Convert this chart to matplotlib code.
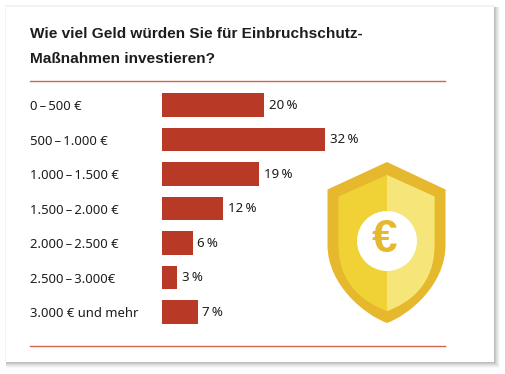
# encoding:utf-8
import matplotlib
matplotlib.use("Agg")
import matplotlib.pyplot as plt
from matplotlib.patches import PathPatch, Rectangle, Circle
from matplotlib.path import Path

plt.rcParams["font.family"] = ["Noto Sans", "DejaVu Sans"]

# 数据
categories = ["0\u2009–\u2009500 €", "500\u2009–\u20091.000 €", "1.000\u2009–\u20091.500 €",
              "1.500\u2009–\u20092.000 €", "2.000\u2009–\u20092.500 €", "2.500\u2009–\u20093.000€",
              "3.000 € und mehr"]
values = [20, 32, 19, 12, 6, 3, 7]
title_lines = ["Wie viel Geld würden Sie für Einbruchschutz-", "Maßnahmen investieren?"]

W, H = 506, 374
RED = "#b83a26"
RULE = "#d4654f"
TXT = "#1d1d1b"

fig = plt.figure(figsize=(W / 100, H / 100), dpi=100, facecolor="white")

# 背景层,像素坐标
bg = fig.add_axes([0, 0, 1, 1])
bg.set_xlim(0, W)
bg.set_ylim(H, 0)
bg.axis("off")

# 卡片阴影
for d, a in [(6, 0.04), (5, 0.05), (4, 0.06), (3, 0.08), (2, 0.10), (1, 0.12)]:
    bg.add_patch(Rectangle((6, 7), 488 + d, 355 + d, fc="#555555", ec="none", alpha=a))
bg.add_patch(Rectangle((5, 5), 489, 357, fc="#f2f2f2", ec="none"))
bg.add_patch(Rectangle((6.5, 6.5), 487.5, 355.5, fc="white", ec="none"))

# 标题和分隔线
for y, line in zip([34, 59], title_lines):
    bg.text(30, y, line, fontsize=11.1, fontfamily="Liberation Sans", fontweight="bold",
            color=TXT, va="center", ha="left")
bg.plot([30, 445], [81, 81], color=RULE, lw=1.0)
bg.plot([30, 445], [346, 346], color=RULE, lw=1.0)

# 盾牌
def shield(top, side, left, right, bottom, mid=387):
    verts = [(mid, top), (right, side), (right, 245),
             (right, 285), (mid + 22, bottom - 8), (mid, bottom),
             (mid - 22, bottom - 8), (left, 285), (left, 245),
             (left, side), (mid, top)]
    codes = [Path.MOVETO, Path.LINETO, Path.LINETO,
             Path.CURVE4, Path.CURVE4, Path.CURVE4,
             Path.CURVE4, Path.CURVE4, Path.CURVE4,
             Path.LINETO, Path.CLOSEPOLY]
    return Path(verts, codes)

bg.add_patch(PathPatch(shield(162, 189.5, 327.5, 445.5, 323), fc="#e6b82e", ec="none"))
inner = shield(175, 196.5, 338.5, 434.5, 311)
bg.add_patch(PathPatch(inner, fc="#f0d236", ec="none"))
right_half = PathPatch(inner, fc="#f6e67a", ec="none")
bg.add_patch(right_half)
right_half.set_clip_path(Rectangle((387, 150), 70, 180, transform=bg.transData))
bg.add_patch(Circle((387, 241), 30, fc="white", ec="none"))
bg.text(385, 240, "€", fontsize=33, fontfamily="Liberation Sans", fontweight="bold",
        color="#e6b82e", ha="center", va="center")

# 条形图
px_per = 5.09
x_max = 60
ax = fig.add_axes([162 / W, 1 - (87.75 + 241.5) / H, x_max * px_per / W, 241.5 / H])
ax.patch.set_alpha(0)
pos = range(len(values))
bars = ax.barh(pos, values, height=0.667, color=RED)
ax.set_xlim(0, x_max)
ax.set_ylim(6.5, -0.5)
ax.set_xticks([])
ax.set_yticks(list(pos))
ax.set_yticklabels(categories, fontsize=9.4, color=TXT, ha="left")
ax.tick_params(axis="y", length=0, pad=132 * 0.72)
for s in ax.spines.values():
    s.set_visible(False)

for b, v in zip(bars, values):
    ax.annotate(f"{v}\u2009%", (v, b.get_y() + b.get_height() / 2), xytext=(3.5, 0),
                textcoords="offset points", va="center", ha="left",
                fontsize=9.6, color=TXT)

fig.savefig("out.png", dpi=100)
